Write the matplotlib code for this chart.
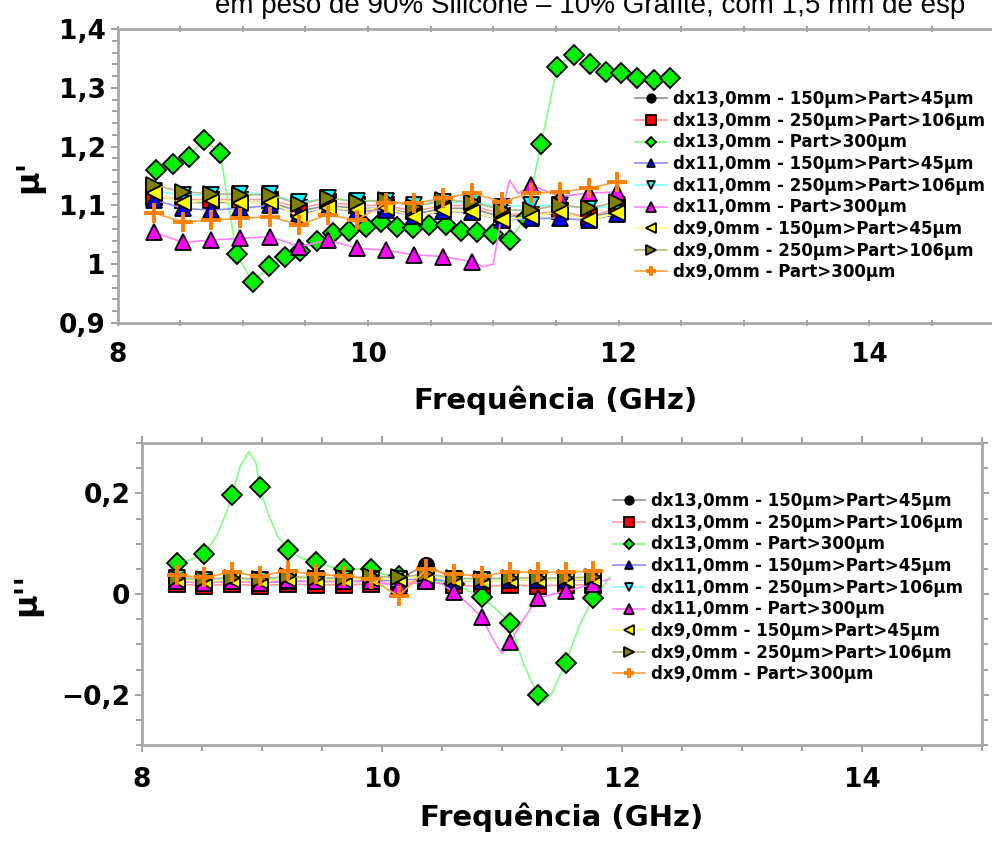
import matplotlib

matplotlib.use("Agg")
import matplotlib.pyplot as plt
from matplotlib.ticker import MultipleLocator, FuncFormatter

# frequências (GHz) dos marcadores
freq_d13p300_top = [8.31, 8.44, 8.57, 8.69, 8.82, 8.95, 9.08, 9.21, 9.34, 9.46, 9.59,
                    9.72, 9.85, 9.98, 10.10, 10.23, 10.36, 10.49, 10.62, 10.74, 10.87,
                    11.00, 11.13, 11.26, 11.38, 11.51, 11.64, 11.77, 11.90, 12.02,
                    12.15, 12.28, 12.41]
freq_top = [8.29, 8.52, 8.75, 8.98, 9.22, 9.45, 9.68, 9.91, 10.14, 10.37, 10.60,
            10.83, 11.07, 11.30, 11.53, 11.76, 11.99]
freq_bot = [8.29, 8.52, 8.75, 8.98, 9.22, 9.45, 9.68, 9.91, 10.14, 10.37, 10.60,
            10.83, 11.07, 11.30, 11.53, 11.76]

labels = [
    "dx13,0mm - 150μm>Part>45μm",
    "dx13,0mm - 250μm>Part>106μm",
    "dx13,0mm - Part>300μm",
    "dx11,0mm - 150μm>Part>45μm",
    "dx11,0mm - 250μm>Part>106μm",
    "dx11,0mm - Part>300μm",
    "dx9,0mm - 150μm>Part>45μm",
    "dx9,0mm - 250μm>Part>106μm",
    "dx9,0mm - Part>300μm",
]

# mu' (parte real)
mu1_d13_150 = [1.120, 1.105, 1.105, 1.105, 1.105, 1.090, 1.100, 1.095, 1.095, 1.085,
               1.095, 1.095, 1.080, 1.085, 1.085, 1.080, 1.090]
mu1_d13_250 = [1.115, 1.110, 1.110, 1.110, 1.110, 1.095, 1.105, 1.100, 1.100, 1.090,
               1.100, 1.100, 1.085, 1.085, 1.090, 1.080, 1.095]
mu1_d13_300 = [1.160, 1.170, 1.183, 1.212, 1.189, 1.017, 0.969, 0.997, 1.012, 1.022,
               1.040, 1.053, 1.057, 1.064, 1.072, 1.063, 1.061, 1.067, 1.067, 1.057,
               1.055, 1.051, 1.042, 1.079, 1.204, 1.336, 1.356, 1.340, 1.327, 1.325,
               1.316, 1.314, 1.317]
mu1_d11_150 = [1.110, 1.095, 1.092, 1.095, 1.100, 1.085, 1.095, 1.090, 1.092, 1.082,
               1.090, 1.088, 1.075, 1.078, 1.078, 1.075, 1.085]
mu1_d11_250 = [1.125, 1.118, 1.118, 1.120, 1.120, 1.105, 1.112, 1.108, 1.108, 1.100,
               1.105, 1.105, 1.098, 1.100, 1.100, 1.095, 1.100]
mu1_d11_300 = [1.055, 1.037, 1.041, 1.044, 1.047, 1.030, 1.041, 1.027, 1.024, 1.016,
               1.013, 1.004, 1.090, 1.135, 1.115, 1.121, 1.123]
mu1_d9_150 = [1.121, 1.104, 1.109, 1.104, 1.106, 1.081, 1.096, 1.092, 1.096, 1.081,
              1.092, 1.089, 1.075, 1.081, 1.089, 1.075, 1.087]
mu1_d9_250 = [1.135, 1.123, 1.120, 1.118, 1.118, 1.102, 1.113, 1.106, 1.109, 1.098,
              1.109, 1.106, 1.092, 1.092, 1.101, 1.095, 1.106]
mu1_d9_300 = [1.087, 1.072, 1.075, 1.078, 1.081, 1.067, 1.084, 1.075, 1.104, 1.104,
              1.112, 1.121, 1.106, 1.121, 1.123, 1.129, 1.140]

# linha continua (mu') da amostra dx11 Part>300um
line_freq_d11_300_top = [8.29, 8.52, 8.75, 8.98, 9.22, 9.45, 9.68, 9.91, 10.14,
                         10.37, 10.60, 10.83, 10.92, 11.00, 11.07, 11.13, 11.20,
                         11.30, 11.53, 11.76, 11.99]
line_mu1_d11_300 = [1.055, 1.037, 1.041, 1.044, 1.047, 1.030, 1.041, 1.027, 1.024,
                    1.016, 1.013, 1.004, 0.996, 1.000, 1.090, 1.143, 1.120, 1.135,
                    1.115, 1.121, 1.123]

# mu'' (parte imaginária)
mu2_d13_150 = [0.030, 0.025, 0.028, 0.025, 0.030, 0.028, 0.028, 0.028, 0.030, 0.058,
               0.030, 0.030, 0.030, 0.030, 0.030, 0.030]
mu2_d13_250 = [0.020, 0.016, 0.020, 0.016, 0.020, 0.018, 0.018, 0.020, 0.022, 0.025,
               0.018, 0.015, 0.018, 0.016, 0.018, 0.018]
mu2_d13_300 = [0.062, 0.080, 0.196, 0.212, 0.088, 0.063, 0.049, 0.050, 0.035, 0.030,
               0.020, -0.006, -0.057, -0.201, -0.137, -0.008]
mu2_d11_150 = [0.025, 0.022, 0.025, 0.022, 0.025, 0.025, 0.025, 0.025, 0.028, 0.030,
               0.025, 0.025, 0.028, 0.028, 0.028, 0.028]
mu2_d11_250 = [0.032, 0.028, 0.030, 0.028, 0.032, 0.030, 0.030, 0.030, 0.030, 0.035,
               0.030, 0.028, 0.030, 0.030, 0.030, 0.032]
mu2_d11_300 = [0.025, 0.022, 0.025, 0.022, 0.028, 0.025, 0.025, 0.025, 0.016, 0.026,
               0.003, -0.046, -0.095, -0.008, 0.006, 0.020]
mu2_d9_150 = [0.028, 0.025, 0.028, 0.025, 0.030, 0.028, 0.028, 0.030, 0.030, 0.035,
              0.028, 0.025, 0.028, 0.028, 0.028, 0.030]
mu2_d9_250 = [0.032, 0.030, 0.032, 0.030, 0.035, 0.032, 0.032, 0.035, 0.033, 0.040,
              0.032, 0.030, 0.032, 0.032, 0.032, 0.034]
mu2_d9_300 = [0.037, 0.033, 0.043, 0.036, 0.046, 0.039, 0.036, 0.029, -0.004, 0.049,
              0.039, 0.036, 0.044, 0.043, 0.043, 0.046]

# curvas continuas (mu'') das amostras com Part>300um
line_freq_d13_300 = [8.29, 8.40, 8.52, 8.62, 8.70, 8.75, 8.82, 8.89, 8.95, 8.98, 9.05,
                     9.13, 9.22, 9.32, 9.45, 9.60, 9.68, 9.91, 10.00, 10.14, 10.37,
                     10.60, 10.83, 10.95, 11.07, 11.18, 11.30, 11.35, 11.42, 11.53,
                     11.65, 11.76, 11.90]
line_mu2_d13_300 = [0.062, 0.068, 0.080, 0.115, 0.160, 0.196, 0.255, 0.283, 0.260,
                    0.212, 0.160, 0.115, 0.088, 0.072, 0.063, 0.052, 0.049, 0.050,
                    0.040, 0.035, 0.030, 0.020, -0.006, -0.030, -0.057, -0.140,
                    -0.201, -0.216, -0.195, -0.137, -0.060, -0.008, 0.033]
line_freq_d11_300 = [8.29, 8.52, 8.75, 8.98, 9.22, 9.45, 9.68, 9.91, 10.14, 10.37,
                     10.50, 10.60, 10.72, 10.83, 10.95, 11.00, 11.07, 11.18, 11.30,
                     11.53, 11.76, 11.90]
line_mu2_d11_300 = [0.025, 0.022, 0.025, 0.022, 0.028, 0.025, 0.025, 0.025, 0.016,
                    0.026, 0.020, 0.003, -0.020, -0.046, -0.100, -0.118, -0.095,
                    -0.050, -0.008, 0.006, 0.020, 0.030]

# estilo de cada serie: (marcador, cor do marcador, cor da linha, tamanho)
styles = [
    ("o", "#000000", "#909090", 11),
    ("s", "#ff0000", "#ff9a9a", 12),
    ("D", "#00f000", "#80ff80", 10),
    ("^", "#0000ff", "#8c8cff", 11),
    ("v", "#00ffff", "#80ffff", 11),
    ("^", "#ff00ff", "#ff80ff", 12),
    ("<", "#ffff00", "#ffff80", 12),
    (">", "#808000", "#b8b880", 12),
    ("+", "#ff8000", "#ffa040", 14),
]

TICK_FONT = 19
LABEL_FONT = 21


def commaFormat(v, pos):
    s = "%g" % round(v, 3)
    return s.replace(".", ",").replace("-", "\u2212")


def styleAxes(ax, yMajor, yMinor):
    ax.set_xlim(8, 15)
    ax.xaxis.set_major_locator(MultipleLocator(2))
    ax.xaxis.set_minor_locator(MultipleLocator(0.5))
    ax.yaxis.set_major_locator(MultipleLocator(yMajor))
    ax.yaxis.set_minor_locator(MultipleLocator(yMinor))
    ax.yaxis.set_major_formatter(FuncFormatter(commaFormat))
    for sp in ax.spines.values():
        sp.set_color("#a8a8a8")
        sp.set_linewidth(2)
    ax.tick_params(which="both", color="#909090", direction="out",
                   top=True, right=True, width=1.2)
    ax.tick_params(which="major", length=5)
    ax.tick_params(which="minor", length=4)
    for lab in ax.get_xticklabels() + ax.get_yticklabels():
        lab.set_fontweight("bold")
        lab.set_fontsize(TICK_FONT)
    ax.set_xlabel("Frequência (GHz)", fontsize=LABEL_FONT, fontweight="bold")


def plotSeries(ax, xs, vals, style, label=None, line=True):
    mk, mc, lc, ms = style
    ls = "-" if line else "none"
    if mk == "+":
        ax.plot(xs, vals, color=lc, lw=1.2, ls=ls, marker=mk, ms=ms, mew=2.8,
                mec=mc, label=label)
    else:
        ax.plot(xs, vals, color=lc, lw=1.2, ls=ls, marker=mk, ms=ms, mfc=mc,
                mec="black", mew=1.3, label=label)


fig = plt.figure(figsize=(9.92, 8.43), dpi=100)

fig.text(215 / 992, 1 - 13 / 843,
         "em peso de 90% Silicone – 10% Grafite, com 1,5 mm de esp",
         fontsize=20, family="Liberation Sans", ha="left", va="baseline")

# ---- mu' ----
ax1 = fig.add_axes([117.5 / 992, 520 / 843, 877 / 992, 294 / 843])
top_series = [mu1_d13_150, mu1_d13_250, mu1_d13_300, mu1_d11_150, mu1_d11_250,
              mu1_d11_300, mu1_d9_150, mu1_d9_250, mu1_d9_300]
for i, (vals, st) in enumerate(zip(top_series, styles)):
    if i == 2:
        plotSeries(ax1, freq_d13p300_top, vals, st, labels[i])
    elif i == 5:
        ax1.plot(line_freq_d11_300_top, line_mu1_d11_300, color=st[2], lw=1.2)
        plotSeries(ax1, freq_top, vals, st, line=False)
        plotSeries(ax1, [], [], st, labels[i])
    else:
        plotSeries(ax1, freq_top, vals, st, labels[i])
ax1.set_ylim(0.9, 1.4)
styleAxes(ax1, 0.1, 0.02)
ax1.tick_params(axis="x", which="both", top=True, direction="inout")
ax1.set_ylabel("μ'", fontsize=23, fontweight="bold", labelpad=10)
ax1.xaxis.set_tick_params(pad=11)
ax1.xaxis.labelpad = 13

# ---- mu'' ----
ax2 = fig.add_axes([142 / 992, 98 / 843, 840 / 992, 302 / 843])
bot_series = [mu2_d13_150, mu2_d13_250, mu2_d13_300, mu2_d11_150, mu2_d11_250,
              mu2_d11_300, mu2_d9_150, mu2_d9_250, mu2_d9_300]
for i, (vals, st) in enumerate(zip(bot_series, styles)):
    if i == 2:
        ax2.plot(line_freq_d13_300, line_mu2_d13_300, color=st[2], lw=1.2)
        plotSeries(ax2, freq_bot, vals, st, line=False)
        plotSeries(ax2, [], [], st, labels[i])
    elif i == 5:
        ax2.plot(line_freq_d11_300, line_mu2_d11_300, color=st[2], lw=1.2)
        plotSeries(ax2, freq_bot, vals, st, line=False)
        plotSeries(ax2, [], [], st, labels[i])
    else:
        plotSeries(ax2, freq_bot, vals, st, labels[i])
ax2.set_ylim(-0.3, 0.3)
styleAxes(ax2, 0.2, 0.05)
ax2.set_ylabel("μ''", fontsize=23, fontweight="bold", labelpad=14)
ax2.xaxis.set_tick_params(pad=11)
ax2.xaxis.labelpad = 7

legend_kw = dict(frameon=False, markerscale=0.55, handlelength=1.9,
                 handletextpad=0.4, labelspacing=0.22, borderpad=0,
                 borderaxespad=0, bbox_transform=fig.transFigure,
                 prop={"weight": "bold", "size": 12})
ax1.legend(loc="upper left", bbox_to_anchor=(635 / 992, 1 - 90 / 843), **legend_kw)
ax2.legend(loc="upper left", bbox_to_anchor=(613 / 992, 1 - 492 / 843), **legend_kw)

fig.savefig("out.png", dpi=100)
